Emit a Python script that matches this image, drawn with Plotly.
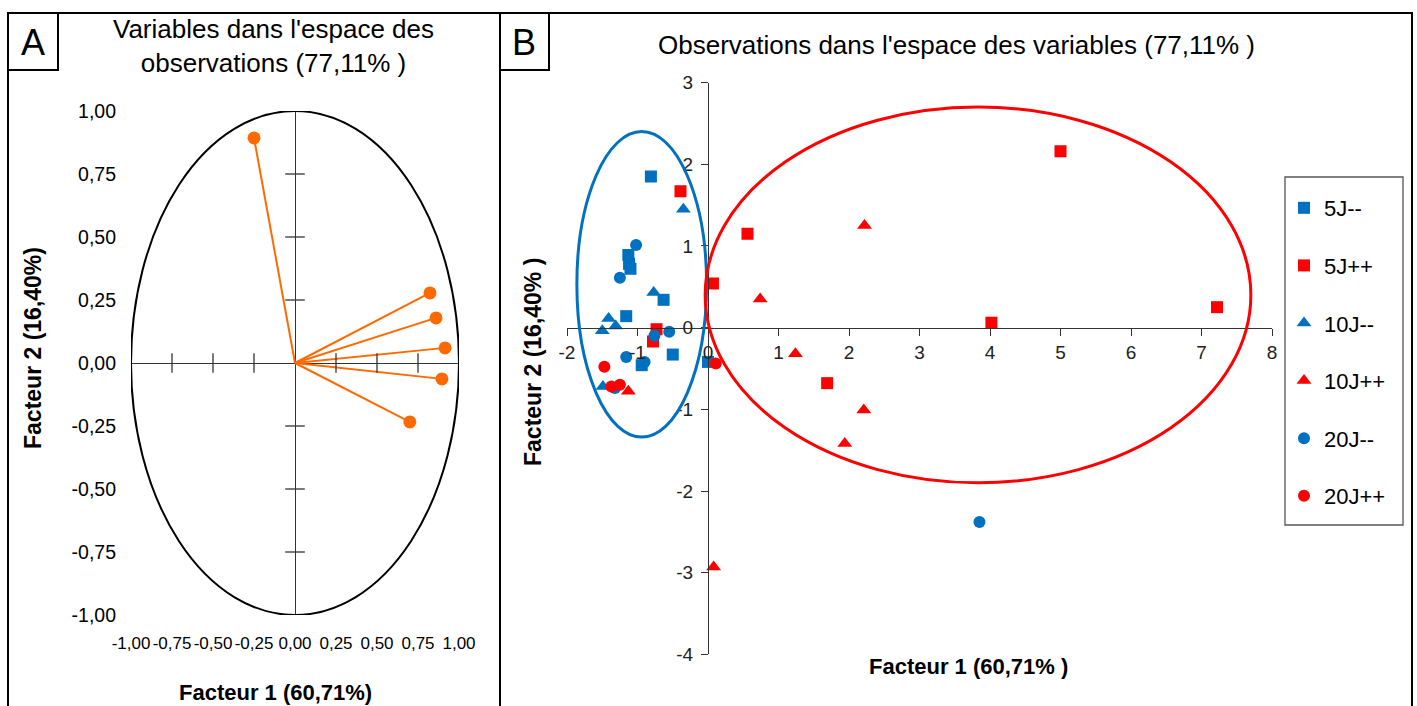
import plotly.graph_objects as go

W, H = 1417, 706
FONT = "Liberation Sans"

# ---------------- Panel A data (correlation circle) ----------------
var_x = [-0.25, 0.823, 0.86, 0.915, 0.896, 0.70]
var_y = [0.893, 0.278, 0.179, 0.06, -0.063, -0.234]
a_tickvals = [-1.0, -0.75, -0.5, -0.25, 0.0, 0.25, 0.5, 0.75, 1.0]
a_ticktext = ["-1,00", "-0,75", "-0,50", "-0,25", "0,00", "0,25", "0,50", "0,75", "1,00"]

# ---------------- Panel B data (observations) ----------------
series_names = ["5J--", "5J++", "10J--", "10J++", "20J--", "20J++"]
s5m_x = [-0.81, -1.13, -1.12, -1.10, -0.63, -1.16, -0.50, -0.94, 0.0]
s5m_y = [1.85, 0.89, 0.78, 0.72, 0.34, 0.14, -0.33, -0.46, -0.42]
s5p_x = [-0.39, -0.73, -0.78, 0.07, 0.56, 5.0, 4.02, 7.22, 1.69]
s5p_y = [1.67, -0.02, -0.17, 0.54, 1.15, 2.16, 0.06, 0.25, -0.68]
s10m_x = [-0.35, -0.77, -1.41, -1.31, -1.50, -1.49]
s10m_y = [1.45, 0.43, 0.11, 0.02, -0.04, -0.72]
s10p_x = [-1.13, 2.22, 0.74, 1.24, 2.21, 1.94, 0.08]
s10p_y = [-0.78, 1.25, 0.35, -0.32, -1.01, -1.42, -2.93]
s20m_x = [-1.02, -1.25, -0.76, -0.55, -1.16, -0.90, -1.32, 3.85]
s20m_y = [1.01, 0.61, -0.10, -0.05, -0.36, -0.42, -0.74, -2.38]
s20p_x = [-1.47, -1.37, -1.25, 0.11]
s20p_y = [-0.48, -0.72, -0.70, -0.44]
b_xticks = [-2, -1, 0, 1, 2, 3, 4, 5, 6, 7, 8]
b_yticks = [-4, -3, -2, -1, 0, 1, 2, 3]

# group ellipses: center x, center y, semi-axis x, semi-axis y
blue_ellipse = [-0.94, 0.53, 0.92, 1.87]
red_ellipse = [3.83, 0.40, 3.87, 2.30]

BLUE = "#0070C0"
RED = "#FF0000"
ORANGE = "#FF6A00"
AXIS = "#333333"


def px(x):
    return x / W


def py(y):
    return 1 - y / H


fig = go.Figure()

# ---- Panel A ----
vx, vy = [], []
for x, y in zip(var_x, var_y):
    vx += [0, x, None]
    vy += [0, y, None]
fig.add_trace(go.Scatter(x=vx, y=vy, mode="lines", line=dict(color=ORANGE, width=2),
                         xaxis="x", yaxis="y", showlegend=False, hoverinfo="skip"))
fig.add_trace(go.Scatter(x=var_x, y=var_y, mode="markers",
                         marker=dict(color=ORANGE, size=13, symbol="circle"),
                         xaxis="x", yaxis="y", showlegend=False))
# cross ticks on the axes of panel A
xt = [v for v in a_tickvals if v != 0]
fig.add_trace(go.Scatter(x=xt, y=[0] * len(xt), mode="markers",
                         marker=dict(symbol="line-ns", size=14, line=dict(width=1.3, color=AXIS)),
                         xaxis="x", yaxis="y", showlegend=False, hoverinfo="skip"))
fig.add_trace(go.Scatter(x=[0] * len(xt), y=xt, mode="markers",
                         marker=dict(symbol="line-ew", size=14, line=dict(width=1.3, color=AXIS)),
                         xaxis="x", yaxis="y", showlegend=False, hoverinfo="skip"))

# ---- Panel B ----
sets = [
    (s5m_x, s5m_y, BLUE, "square", 12),
    (s5p_x, s5p_y, RED, "square", 12),
    (s10m_x, s10m_y, BLUE, "triangle-up", 13),
    (s10p_x, s10p_y, RED, "triangle-up", 13),
    (s20m_x, s20m_y, BLUE, "circle", 12),
    (s20p_x, s20p_y, RED, "circle", 12),
]
for name, (xs, ys, col, sym, sz) in zip(series_names, sets):
    fig.add_trace(go.Scatter(x=xs, y=ys, mode="markers", name=name, legendgroup=name,
                             marker=dict(color=col, symbol=sym, size=sz),
                             xaxis="x2", yaxis="y2"))

# domains
a_xd = [px(131), px(459)]
a_yd = [py(615), py(111)]
b_xd = [px(567), px(1272)]
b_yd = [py(654.4), py(82.5)]
b_xr = [-2, 8]
b_yr = [-4, 3]
xaxis_pos = b_yd[0] + (0 - b_yr[0]) / (b_yr[1] - b_yr[0]) * (b_yd[1] - b_yd[0])
yaxis_pos = b_xd[0] + (0 - b_xr[0]) / (b_xr[1] - b_xr[0]) * (b_xd[1] - b_xd[0])

fig.update_layout(
    width=W, height=H,
    margin=dict(l=0, r=0, t=0, b=0),
    paper_bgcolor="white", plot_bgcolor="rgba(0,0,0,0)",
    font=dict(family=FONT, color="black"),
    xaxis=dict(domain=a_xd, range=[-1, 1], anchor="y", tickmode="array",
               tickvals=a_tickvals, ticktext=a_ticktext, showgrid=False,
               showline=False, ticks="", zeroline=True, zerolinecolor=AXIS,
               zerolinewidth=1.3, tickfont=dict(size=17, family=FONT), tickangle=0,
               ticklabelstandoff=16, automargin=False, fixedrange=True),
    yaxis=dict(domain=a_yd, range=[-1, 1], anchor="x", tickmode="array",
               tickvals=a_tickvals, ticktext=a_ticktext, showgrid=False,
               showline=False, ticks="", zeroline=True, zerolinecolor=AXIS,
               zerolinewidth=1.3, tickfont=dict(size=19.5, family=FONT),
               ticklabelstandoff=14, automargin=False, fixedrange=True),
    xaxis2=dict(domain=b_xd, range=b_xr, anchor="free", position=xaxis_pos,
                tickmode="array", tickvals=b_xticks, ticktext=[str(v) for v in b_xticks],
                showgrid=False, zeroline=False, showline=True, linecolor=AXIS,
                linewidth=1.3, ticks="outside", ticklen=7, tickcolor=AXIS, tickangle=0,
                tickfont=dict(size=19, family=FONT, color="#222"),
                automargin=False, fixedrange=True),
    yaxis2=dict(domain=b_yd, range=b_yr, anchor="free", position=yaxis_pos,
                tickmode="array", tickvals=b_yticks, ticktext=[str(v) for v in b_yticks],
                showgrid=False, zeroline=False, showline=True, linecolor=AXIS,
                linewidth=1.3, ticks="outside", ticklen=7, tickcolor=AXIS,
                tickfont=dict(size=19, family=FONT, color="#222"),
                ticklabelstandoff=4, automargin=False, fixedrange=True),
    legend=dict(x=px(1284), y=py(187), xanchor="left", yanchor="top",
                bgcolor="rgba(0,0,0,0)", borderwidth=0, tracegroupgap=26,
                font=dict(size=22, family=FONT), itemwidth=30),
)

shapes = []
# ellipses
shapes.append(dict(type="circle", xref="x", yref="y", x0=-1, x1=1, y0=-1, y1=1,
                   line=dict(color="black", width=2)))
for (cx, cy, rx, ry), col in [(blue_ellipse, BLUE), (red_ellipse, RED)]:
    shapes.append(dict(type="circle", xref="x2", yref="y2", x0=cx - rx, x1=cx + rx,
                       y0=cy - ry, y1=cy + ry, line=dict(color=col, width=3)))
# panel frames
for (x0, y0, x1, y1) in [(8, 13, 500, 730), (500, 13, 1412, 730), (8, 13, 58, 70),
                         (500, 13, 549, 70)]:
    shapes.append(dict(type="rect", xref="paper", yref="paper", x0=px(x0), x1=px(x1),
                       y0=py(y1), y1=py(y0), line=dict(color="black", width=2)))
# legend frame
shapes.append(dict(type="rect", xref="paper", yref="paper", x0=px(1285), x1=px(1403),
                   y0=py(525), y1=py(177), line=dict(color="#555555", width=1.3)))
fig.update_layout(shapes=shapes)

ann = [
    dict(text="A", x=px(33), y=py(42), font=dict(size=36)),
    dict(text="B", x=px(524), y=py(42), font=dict(size=36)),
    dict(text="Variables dans l'espace des<br>observations (77,11% )", x=px(273), y=py(46),
         font=dict(size=26)),
    dict(text="Observations dans l'espace des variables (77,11% )", x=px(956), y=py(45),
         font=dict(size=26)),
    dict(text="<b>Facteur 1 (60,71%)</b>", x=px(275), y=py(692), font=dict(size=22)),
    dict(text="<b>Facteur 2 (16,40%)</b>", x=px(33), y=py(348), font=dict(size=23),
         textangle=-90),
    dict(text="<b>Facteur 1 (60,71% )</b>", x=px(968), y=py(666), font=dict(size=22)),
    dict(text="<b>Facteur 2 (16,40% )</b>", x=px(533), y=py(362), font=dict(size=23),
         textangle=-90),
]
for a in ann:
    a.update(xref="paper", yref="paper", showarrow=False, xanchor="center", yanchor="middle")
    a["font"].update(family=FONT, color="black")
fig.update_layout(annotations=ann)

fig.write_html("out.html", config={"displayModeBar": False},
               post_script="document.body.style.margin='0';document.body.style.overflow='hidden';")
